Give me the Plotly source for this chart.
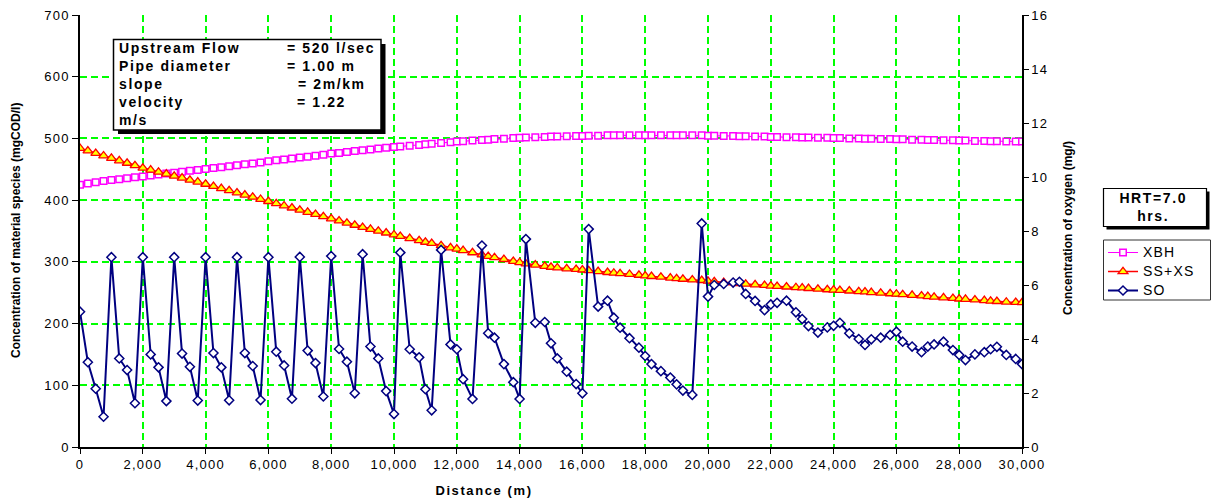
import plotly.graph_objects as go

# ---------------- data ----------------
distance = [0, 250, 500, 750, 1000, 1250, 1500, 1750, 2000, 2250, 2500, 2750, 3000, 3250, 3500, 3750,
            4000, 4250, 4500, 4750, 5000, 5250, 5500, 5750, 6000, 6250, 6500, 6750, 7000, 7250, 7500, 7750,
            8000, 8250, 8500, 8750, 9000, 9250, 9500, 9750, 10000,
            10200, 10500, 10800, 11000, 11200, 11500, 11800, 12000, 12200, 12500, 12800, 13000,
            13200, 13500, 13800, 14000, 14200, 14500, 14800, 15000, 15200, 15500, 15800, 16000,
            16200, 16500, 16800, 17000, 17200, 17500, 17800, 18000, 18200, 18500, 18800, 19000,
            19200, 19500, 19800, 20000, 20200, 20500, 20800, 21000, 21200, 21500, 21800, 22000,
            22200, 22500, 22800, 23000, 23200, 23500, 23800, 24000, 24200, 24500, 24800, 25000,
            25200, 25500, 25800, 26000, 26200, 26500, 26800, 27000, 27200, 27500, 27800, 28000,
            28200, 28500, 28800, 29000, 29200, 29500, 29800, 30000]

xbh = [425, 427, 429, 431, 432.5, 434, 435.5, 437, 438.5, 440, 441.5, 443, 444.5, 446, 447.5, 449,
       450.5, 452, 453.5, 455, 456.5, 458, 459.5, 461, 463, 464.5, 466, 467.5, 469, 470.5, 472, 473.5,
       475.5, 476.5, 478, 479.5, 481, 482, 483.5, 485, 486,
       487, 488, 489.5, 490.5, 491.5, 492.5, 494, 495, 495.5, 496.5, 497.5, 498,
       499, 499.5, 500.5, 501, 501.5, 502, 502.5, 503, 503, 503.5, 504, 504,
       504.5, 504.5, 505, 505, 505, 505, 505, 505, 505, 505, 505, 505,
       505, 505, 505, 504.5, 504.5, 504, 504, 503.5, 503.5, 503, 503, 502.5,
       502.5, 502, 502, 501.5, 501.5, 501, 501, 500.5, 500.5, 500, 500, 499.5,
       499.5, 499, 499, 498.5, 498.5, 498, 498, 497.5, 497.5, 497, 497, 496.5,
       496.5, 496, 496, 495.5, 495.5, 495, 495, 495]

ss_xs = [484, 480, 476, 472, 468, 464, 460, 456, 452, 449, 445.5, 442.5, 439, 436, 432.5, 429.5,
         426, 422.5, 419, 415.5, 412, 408.5, 405, 401.5, 398, 394.5, 391, 387.5, 384, 380.5, 377, 373.5,
         370, 366.5, 363, 359.5, 356, 353, 350, 347, 344,
         341.5, 338, 334.5, 332, 330, 326.5, 323, 321, 318.5, 315, 311.5, 309,
         307, 304, 301, 299, 297, 295, 293, 291.5, 290.5, 289, 288, 287,
         286, 284.5, 283, 282, 281, 280, 278.5, 277.5, 276.5, 275.5, 274, 273,
         272, 271, 270, 269, 268, 267, 266, 265, 264, 263, 262, 261,
         260.5, 259.5, 258.5, 258, 257, 256, 255, 254.5, 254, 253, 252, 251.5,
         250.5, 249.5, 248.5, 248, 247, 246, 245, 244, 243, 242, 241, 240,
         239.5, 238.5, 237.5, 236.5, 236, 235, 234.5, 234]

so = [5.01, 3.14, 2.16, 1.12, 7.03, 3.28, 2.85, 1.62, 7.03, 3.43, 2.95, 1.70, 7.03, 3.46, 2.97, 1.72,
      7.03, 3.48, 2.95, 1.73, 7.03, 3.48, 3.00, 1.74, 7.03, 3.53, 3.02, 1.79, 7.04, 3.57, 3.11, 1.87,
      7.07, 3.63, 3.16, 1.99, 7.14, 3.72, 3.28, 2.07, 1.22,
      7.20, 3.62, 3.32, 2.14, 1.36, 7.30, 3.80, 3.62, 2.51, 1.78, 7.46, 4.21,
      4.05, 3.07, 2.40, 1.78, 7.70, 4.60, 4.63, 3.84, 3.28, 2.79, 2.33, 1.99,
      8.07, 5.20, 5.42, 4.79, 4.42, 4.03, 3.68, 3.37, 3.07, 2.81, 2.57, 2.32,
      2.09, 1.93, 8.28, 5.57, 6.00, 6.04, 6.09, 6.12, 5.67, 5.41, 5.07, 5.28,
      5.34, 5.42, 4.99, 4.74, 4.48, 4.24, 4.43, 4.49, 4.60, 4.21, 4.00, 3.78,
      3.99, 4.05, 4.15, 4.27, 3.90, 3.72, 3.51, 3.72, 3.80, 3.90, 3.59, 3.41,
      3.22, 3.43, 3.51, 3.62, 3.71, 3.41, 3.26, 3.07]

series_names = ["XBH", "SS+XS", "SO"]
info_labels = ["Upstream Flow", "Pipe diameter", "slope", "velocity", "m/s"]
info_values = ["= 520 l/sec", "= 1.00 m", "= 2m/km", "= 1.22", ""]
hrt_text = "HRT=7.0<br>hrs."

# ---------------- figure ----------------
FONT = "Liberation Sans, Arial, sans-serif"
L, R, T, B = 80, 1022, 15, 447
W, H = 1213, 502


def px(x):
    return (x - L) / (R - L)


def py(y):
    return (B - y) / (B - T)


fig = go.Figure()
fig.add_trace(go.Scatter(
    x=distance, y=xbh, name=series_names[0], mode="lines+markers",
    line=dict(color="#FF00FF", width=1),
    marker=dict(symbol="square", size=6.5, color="white", line=dict(color="#FF00FF", width=1.5)),
))
fig.add_trace(go.Scatter(
    x=distance, y=ss_xs, name=series_names[1], mode="lines+markers",
    line=dict(color="#FF0000", width=1.5),
    marker=dict(symbol="triangle-up", size=8.5, color="#FFFF00", line=dict(color="#FF0000", width=1.3)),
))
fig.add_trace(go.Scatter(
    x=distance, y=so, name=series_names[2], mode="lines+markers", yaxis="y2",
    line=dict(color="#000080", width=2),
    marker=dict(symbol="diamond", size=7, color="white", line=dict(color="#000080", width=1.5)),
))

grid = dict(showgrid=True, gridcolor="#00FF00", griddash="7px,4px", gridwidth=1.5)

fig.update_layout(
    width=W, height=H,
    margin=dict(l=L, r=W - R, t=T, b=H - B, autoexpand=False),
    paper_bgcolor="white", plot_bgcolor="white",
    font=dict(family=FONT, size=13, color="#000"),
    showlegend=True,
    legend=dict(x=px(1103), y=py(238), xanchor="left", yanchor="top",
                borderwidth=0, bgcolor="rgba(0,0,0,0)",
                font=dict(family=FONT, size=12, color="#000"),
                itemwidth=30, tracegroupgap=0),
    xaxis=dict(range=[0, 30000], dtick=2000, tick0=0, tickformat=",d",
               showline=True, linecolor="#000", linewidth=1.5,
               ticks="outside", ticklen=5, tickcolor="#000",
               zeroline=False, **grid),
    yaxis=dict(range=[0, 700], dtick=100, tick0=0,
               showline=True, linecolor="#000", linewidth=1.5,
               ticks="outside", ticklen=6, tickcolor="#000",
               zeroline=False, **grid),
    yaxis2=dict(range=[0, 16], dtick=2, tick0=0, overlaying="y", side="right",
                showline=True, linecolor="#000", linewidth=1.5,
                ticks="outside", ticklen=5, tickcolor="#000",
                showgrid=False, zeroline=False),
)

shapes = []
# info box with shadow
shapes.append(dict(type="rect", xref="paper", yref="paper", x0=px(118), x1=px(385.5), y0=py(134), y1=py(44),
                   fillcolor="#000", line=dict(width=0), layer="above"))
shapes.append(dict(type="rect", xref="paper", yref="paper", x0=px(113.5), x1=px(381), y0=py(130), y1=py(39.5),
                   fillcolor="white", line=dict(color="#000", width=1.5), layer="above"))
# HRT box with shadow
shapes.append(dict(type="rect", xref="paper", yref="paper", x0=px(1106.5), x1=px(1209.5), y0=py(229.5), y1=py(191.5),
                   fillcolor="#000", line=dict(width=0), layer="above"))
shapes.append(dict(type="rect", xref="paper", yref="paper", x0=px(1103.5), x1=px(1206.5), y0=py(226.5), y1=py(188.5),
                   fillcolor="white", line=dict(color="#000", width=1.2), layer="above"))
# legend frame
shapes.append(dict(type="rect", xref="paper", yref="paper", x0=px(1103.5), x1=px(1210.5), y0=py(300), y1=py(240),
                   fillcolor="rgba(0,0,0,0)", line=dict(color="#333", width=1), layer="above"))
fig.update_layout(shapes=shapes)

ann = []
spaced_idx = []
line_y = [48.5, 66.3, 84, 101.8, 119.6]
val_x = [285, 284.5, 296, 294.5, 0]
for i, (lab, val) in enumerate(zip(info_labels, info_values)):
    spaced_idx.append(len(ann))
    ann.append(dict(text=lab, xref="paper", yref="paper", x=px(117), y=py(line_y[i]),
                    xanchor="left", yanchor="middle", showarrow=False, align="left",
                    font=dict(family=FONT, size=14, color="#000", weight="bold")))
    if val:
        spaced_idx.append(len(ann))
        ann.append(dict(text=val, xref="paper", yref="paper", x=px(val_x[i]), y=py(line_y[i]),
                        xanchor="left", yanchor="middle", showarrow=False, align="left",
                        font=dict(family=FONT, size=14, color="#000", weight="bold")))
# HRT text
spaced_idx.append(len(ann))
ann.append(dict(text=hrt_text, xref="paper", yref="paper", x=px(1153), y=py(206.5),
                xanchor="center", yanchor="middle", showarrow=False, align="center",
                font=dict(family=FONT, size=14, color="#000", weight="bold")))
# axis titles
spaced_idx.append(len(ann))
ann.append(dict(text="Distance (m)", xref="paper", yref="paper", x=px(484), y=py(490),
                xanchor="center", yanchor="middle", showarrow=False,
                font=dict(family=FONT, size=13, color="#000", weight="bold")))
ann.append(dict(text="Concentration of material species (mgCOD/l)", xref="paper", yref="paper",
                x=px(16), y=py(231), xanchor="center", yanchor="middle", showarrow=False, textangle=-90,
                font=dict(family=FONT, size=12, color="#000", weight="bold")))
ann.append(dict(text="Concentration of oxygen (mg/)", xref="paper", yref="paper",
                x=px(1068), y=py(228), xanchor="center", yanchor="middle", showarrow=False, textangle=-90,
                font=dict(family=FONT, size=12, color="#000", weight="bold")))
fig.update_layout(annotations=ann)

post = """
document.body.style.margin = '0';
document.body.style.padding = '0';
var gd = document.getElementById('{plot_id}');
function spacing(){
  document.querySelectorAll('.xtick text, .ytick text, .y2tick text').forEach(function(t){t.style.letterSpacing='1.2px';});
  document.querySelectorAll('.legendtext').forEach(function(t){t.style.letterSpacing='1.2px'; t.style.fontSize='14px';});
  document.querySelectorAll('.legend .scrollbox, .legend').forEach(function(e){e.removeAttribute('clip-path'); e.style.clipPath='none';});
  var idx = %s;
  idx.forEach(function(k){
    var a = document.querySelector('.annotation[data-index="'+k+'"] text');
    if(a){a.style.letterSpacing='1.6px';}
  });
}
spacing();
gd.on('plotly_afterplot', spacing);
""" % (str(spaced_idx))

fig.write_html("out.html", post_script=post, config={"displayModeBar": False})
